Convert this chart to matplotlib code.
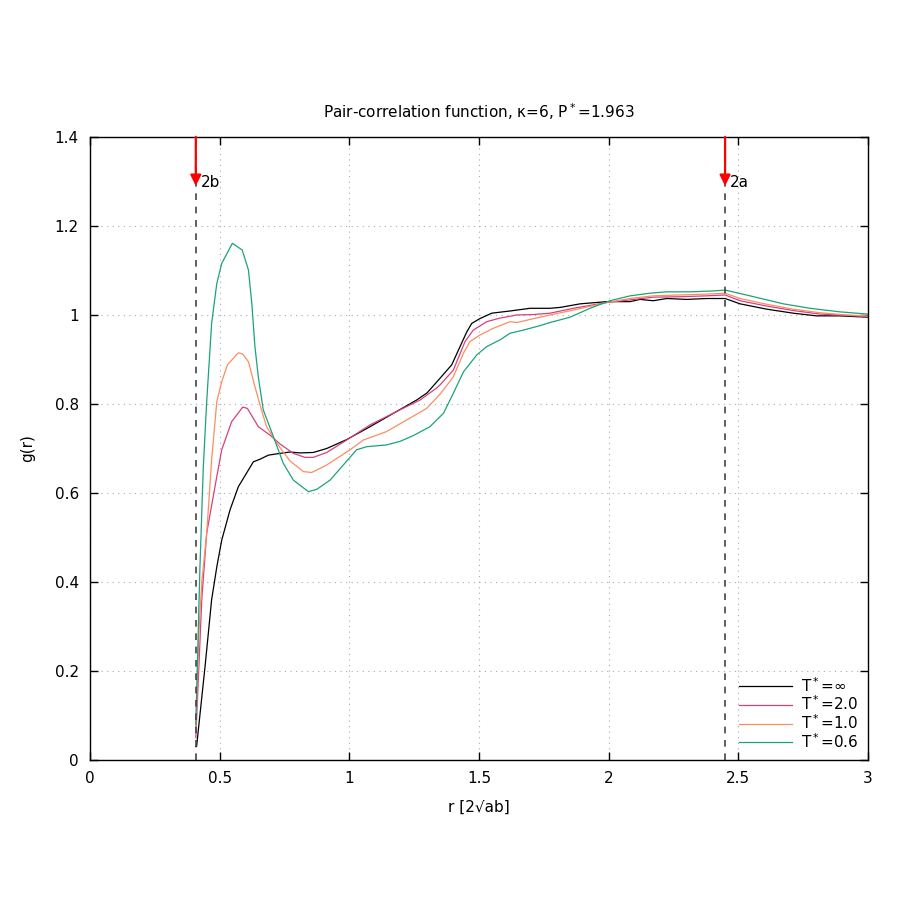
import numpy as np
import matplotlib.pyplot as plt
from matplotlib.ticker import FormatStrFormatter

# contact distances, kappa=6 -> 2b = 1/sqrt(6), 2a = sqrt(6)
r_2b = 0.408
r_2a = 2.449

# T*=inf
r_inf = [0.408, 0.411, 0.4435, 0.469, 0.489, 0.508, 0.540, 0.572, 0.630, 0.656, 0.688, 0.733,
         0.771, 0.810, 0.861, 0.913, 0.99, 1.08, 1.17, 1.26, 1.30, 1.35, 1.395, 1.427, 1.453,
         1.472, 1.504, 1.549, 1.62, 1.697, 1.774, 1.813, 1.89, 1.993, 2.083, 2.121, 2.172,
         2.224, 2.301, 2.378, 2.449, 2.507, 2.61, 2.712, 2.802, 2.892, 3.0]
g_inf = [0.03, 0.03, 0.209, 0.36, 0.434, 0.494, 0.562, 0.614, 0.670, 0.676, 0.685, 0.689,
         0.692, 0.690, 0.691, 0.700, 0.720, 0.749, 0.779, 0.809, 0.825, 0.858, 0.888, 0.929, 0.962,
         0.981, 0.992, 1.004, 1.009, 1.015, 1.015, 1.017, 1.025, 1.030, 1.030, 1.035, 1.032,
         1.037, 1.035, 1.037, 1.037, 1.025, 1.013, 1.004, 0.998, 0.998, 0.995]

# T*=2.0
r_t2 = [0.408, 0.431, 0.45, 0.489, 0.508, 0.546, 0.589, 0.607, 0.649, 0.694, 0.733, 0.784,
        0.829, 0.861, 0.913, 0.99, 1.08, 1.196, 1.273, 1.337, 1.35, 1.401, 1.446, 1.478, 1.53,
        1.581, 1.646, 1.71, 1.774, 1.864, 1.993, 2.083, 2.172, 2.275, 2.378, 2.449, 2.507,
        2.61, 2.712, 2.815, 2.918, 3.0]
g_t2 = [0.05, 0.36, 0.51, 0.637, 0.697, 0.760, 0.793, 0.790, 0.749, 0.730, 0.710, 0.689,
        0.680, 0.680, 0.691, 0.719, 0.753, 0.787, 0.809, 0.836, 0.843, 0.876, 0.940, 0.966, 0.985,
        0.993, 1.000, 1.001, 1.004, 1.015, 1.028, 1.034, 1.040, 1.041, 1.043, 1.045, 1.032,
        1.020, 1.010, 1.002, 0.999, 0.996]

# T*=1.0
r_t1 = [0.408, 0.42, 0.431, 0.45, 0.469, 0.489, 0.508, 0.53, 0.572, 0.589, 0.611, 0.636,
        0.662, 0.681, 0.72, 0.771, 0.823, 0.855, 0.913, 1.003, 1.054, 1.144, 1.221, 1.298,
        1.35, 1.401, 1.44, 1.465, 1.504, 1.555, 1.62, 1.646, 1.697, 1.774, 1.864, 1.993,
        2.083, 2.172, 2.275, 2.378, 2.449, 2.507, 2.61, 2.712, 2.815, 2.918, 3.0]
g_t1 = [0.07, 0.285, 0.40, 0.509, 0.674, 0.805, 0.850, 0.888, 0.915, 0.912, 0.895, 0.839,
        0.785, 0.749, 0.712, 0.672, 0.648, 0.646, 0.663, 0.697, 0.719, 0.738, 0.764, 0.790,
        0.822, 0.861, 0.914, 0.940, 0.955, 0.970, 0.985, 0.983, 0.990, 1.000, 1.011, 1.028,
        1.037, 1.043, 1.045, 1.047, 1.049, 1.037, 1.024, 1.013, 1.005, 1.000, 0.998]

# T*=0.6
r_t06 = [0.408, 0.424, 0.437, 0.45, 0.469, 0.489, 0.508, 0.549, 0.587, 0.611, 0.624, 0.636,
         0.649, 0.668, 0.707, 0.745, 0.784, 0.842, 0.874, 0.926, 0.977, 1.028, 1.067, 1.144,
         1.196, 1.247, 1.311, 1.363, 1.401, 1.44, 1.491, 1.53, 1.581, 1.62, 1.671, 1.735,
         1.774, 1.851, 1.928, 2.005, 2.083, 2.16, 2.224, 2.314, 2.404, 2.449, 2.545, 2.674,
         2.777, 2.892, 3.0]
g_t06 = [0.08, 0.434, 0.659, 0.805, 0.981, 1.071, 1.116, 1.161, 1.146, 1.101, 1.026, 0.929,
         0.861, 0.787, 0.727, 0.667, 0.629, 0.603, 0.608, 0.629, 0.663, 0.697, 0.704, 0.708,
         0.716, 0.729, 0.749, 0.779, 0.824, 0.872, 0.910, 0.929, 0.944, 0.959, 0.966, 0.976,
         0.983, 0.995, 1.015, 1.032, 1.043, 1.049, 1.052, 1.052, 1.054, 1.056, 1.043, 1.025,
         1.015, 1.007, 1.002]

labels = ['T$^*$=∞', 'T$^*$=2.0', 'T$^*$=1.0', 'T$^*$=0.6']
colors = ['black', '#d6407e', '#fc8d62', '#1ba37a']

plt.rcParams['font.family'] = ['DejaVu Sans']
plt.rcParams['mathtext.fontset'] = 'dejavusans'

fig = plt.figure(figsize=(9, 9), dpi=100)
ax = fig.add_axes([0.1, 0.1556, 0.8644, 0.6922])

ax.plot(r_inf, g_inf, color=colors[0], lw=0.9, label=labels[0])
ax.plot(r_t2, g_t2, color=colors[1], lw=0.9, label=labels[1])
ax.plot(r_t1, g_t1, color=colors[2], lw=0.9, label=labels[2])
ax.plot(r_t06, g_t06, color=colors[3], lw=0.9, label=labels[3])

# contact markers
for xv, name in [(r_2b, '2b'), (r_2a, '2a')]:
    ax.axvline(xv, color='#444444', lw=1.2, ls=(0, (4, 4)))
    ax.annotate('', xy=(xv, 1.29), xytext=(xv, 1.4),
                arrowprops=dict(arrowstyle='-|>', color='red', lw=1.6,
                                mutation_scale=16, shrinkA=0, shrinkB=0))
    ax.text(xv + 0.018, 1.297, name, fontsize=11, va='center', ha='left')

ax.set_xlim(0, 3)
ax.set_ylim(0, 1.4)
ax.set_xticks(np.arange(0, 3.01, 0.5))
ax.set_yticks(np.arange(0, 1.41, 0.2))
ax.xaxis.set_major_formatter(FormatStrFormatter('%g'))
ax.yaxis.set_major_formatter(FormatStrFormatter('%g'))
ax.tick_params(direction='in', top=True, right=True, length=6, width=1, labelsize=11, pad=8)
ax.grid(True, color='#aaaaaa', ls=(0, (1, 4)), lw=0.8)
for s in ax.spines.values():
    s.set_linewidth(1)

ax.set_title('Pair-correlation function, κ=6, P$^*$=1.963', fontsize=11, pad=14)
ax.set_xlabel('r [2√ab]', fontsize=11, labelpad=10)
ax.set_ylabel('g(r)', fontsize=11, labelpad=14)

ax.legend(loc='lower right', frameon=False, fontsize=11, handlelength=3.5,
          handletextpad=0.6, labelspacing=0.0, borderaxespad=0.2)

fig.savefig('out.png', dpi=100)
